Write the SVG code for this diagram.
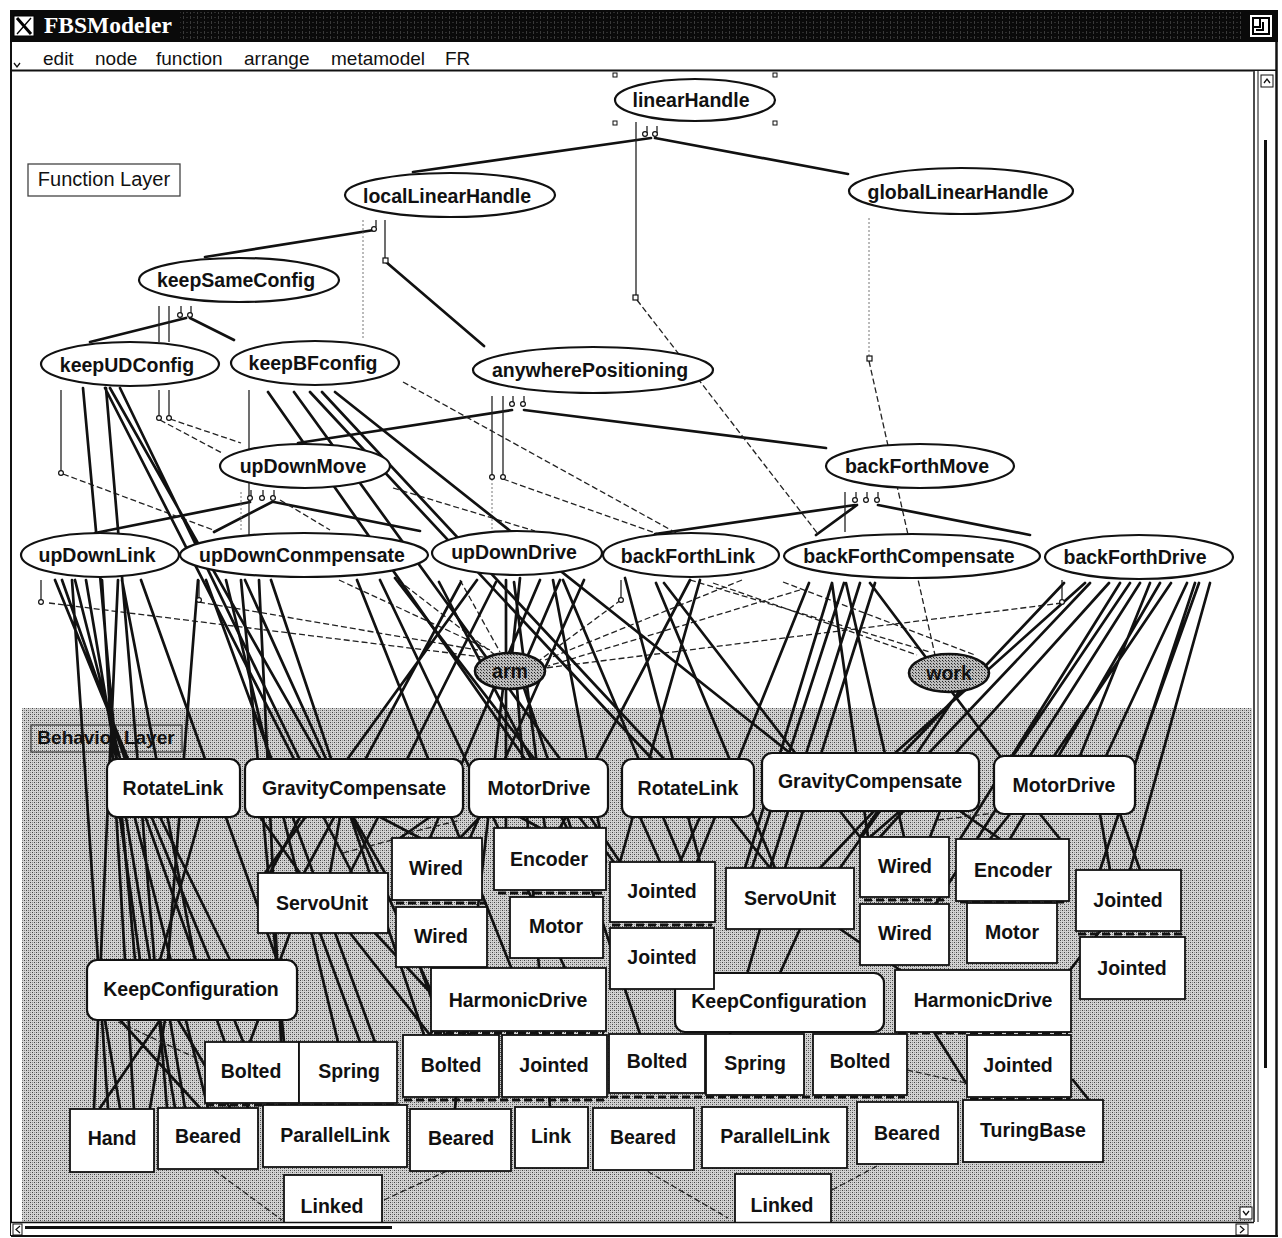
<svg xmlns="http://www.w3.org/2000/svg" width="1282" height="1238" viewBox="0 0 1282 1238">
<defs>
  <pattern id="stip" width="4" height="4" patternUnits="userSpaceOnUse">
    <rect width="4" height="4" fill="#d2d2d2"/>
    <rect x="0" y="0" width="1" height="1" fill="#444"/>
    <rect x="2" y="2" width="1" height="1" fill="#444"/>
    <rect x="0" y="2" width="1" height="1" fill="#888"/>
    <rect x="2" y="0" width="1" height="1" fill="#999"/>
  </pattern>
  <pattern id="stipDark" width="3" height="3" patternUnits="userSpaceOnUse">
    <rect width="3" height="3" fill="#bdbdbd"/>
    <rect x="0" y="0" width="1" height="1" fill="#222"/>
    <rect x="1" y="1" width="1" height="1" fill="#555"/>
  </pattern>
  <pattern id="titleTex" width="7" height="5" patternUnits="userSpaceOnUse">
    <rect width="7" height="5" fill="#0a0a0a"/>
    <rect x="1" y="1" width="1" height="3" fill="#3a3a3a"/>
    <rect x="4" y="2" width="2" height="1" fill="#2c2c2c"/>
  </pattern>
  <style>
    .lbl { font-family: "Liberation Sans", Arial, sans-serif; font-weight: bold; font-size: 19.5px; fill: #111; text-anchor: middle; }
    .menu { font-family: "Liberation Sans", Arial, sans-serif; font-size: 19px; fill: #111; }
    .fn { fill: #fff; stroke: #111; stroke-width: 2.2; }
    .obj { fill: url(#stipDark); stroke: #111; stroke-width: 2.6; }
    .bh { fill: #fff; stroke: #111; stroke-width: 2.2; }
    .ent { fill: #fff; stroke: #111; stroke-width: 1.8; }
    .th { fill: none; stroke: #111; stroke-width: 2.7; stroke-linecap: round; }
    .tn { fill: none; stroke: #222; stroke-width: 1.3; }
    .ds { fill: none; stroke: #222; stroke-width: 1.3; stroke-dasharray: 6 3; }
    .dt { fill: none; stroke: #777; stroke-width: 1; stroke-dasharray: 2 2; }
    .gap { fill: none; stroke: #111; stroke-width: 3; stroke-dasharray: 8 4; }
    .hook { fill: #fff; stroke: #111; stroke-width: 1.2; }
  </style>
</defs>

<rect width="1282" height="1238" fill="#fff"/>

<!-- window title bar -->
<g id="titlebar">
  <rect x="10" y="10" width="1268" height="32" fill="#0a0a0a"/>
  <rect x="180" y="12" width="1062" height="28" fill="url(#titleTex)"/>
  <rect x="14" y="16" width="20" height="20" fill="#fff" stroke="#000" stroke-width="1"/>
  <line x1="17" y1="18" x2="31" y2="34" stroke="#000" stroke-width="3"/>
  <line x1="31" y1="18" x2="17" y2="34" stroke="#000" stroke-width="1.3"/>
  <text x="44" y="33" style="font-family:'Liberation Serif','Times New Roman',serif;font-weight:bold;font-size:23.5px;fill:#fff">FBSModeler</text>
  <rect x="1250" y="15" width="22" height="22" fill="#fff"/>
  <path d="M1253 18 H1269 V34 H1253 Z M1260 18 V27 H1253 M1263 22 V30 H1256" fill="none" stroke="#000" stroke-width="2"/>
</g>

<!-- menu bar -->
<g id="menubar">
  <rect x="10" y="42" width="1268" height="28" fill="#fff"/>
  <path d="M14 63 L17 67 L20 63" fill="none" stroke="#111" stroke-width="1.3"/>
  <text class="menu" x="43" y="65">edit</text>
  <text class="menu" x="95" y="65">node</text>
  <text class="menu" x="156" y="65">function</text>
  <text class="menu" x="244" y="65">arrange</text>
  <text class="menu" x="331" y="65">metamodel</text>
  <text class="menu" x="445" y="65">FR</text>
  <line x1="10" y1="70.5" x2="1276" y2="70.5" stroke="#111" stroke-width="2"/>
</g>

<!-- behaviour layer background -->
<rect id="behavior-area" x="22" y="708" width="1230" height="516" fill="url(#stip)"/>

<g id="layer-labels">
  <rect x="28" y="164" width="152" height="32" fill="#fff" stroke="#444" stroke-width="1.3"/>
  <text class="lbl" x="104" y="186" style="font-weight:normal;font-size:20px">Function Layer</text>
  <rect x="31" y="725" width="151" height="27" fill="none" stroke="#444" stroke-width="1.3"/>
  <text class="lbl" x="106" y="744" style="font-size:19px">Behavior Layer</text>
</g>

<g id="connectors">
  <!-- function hierarchy -->
  <path class="th" d="M651 138 L413 172 M655 138 L848 174 M374 230 L205 257 M386 262 L484 346 M186 318 L90 342 M190 318 L234 340 M512 410 L298 443 M524 410 L826 448 M250 502 L95 533 M272 502 L214 532 M274 502 L420 531 M855 505 L655 534 M857 505 L816 535 M878 505 L1030 535"/>
  <path class="tn" d="M636 122 V296 M385 220 V258 M159 306 V342 M169 306 V342 M159 390 V416 M169 390 V416 M61 390 V471 M249 390 V535 M492 396 V475 M503 396 V475 M845 492 V532 M41 580 V600 M199 580 V598 M621 580 V598 M1062 580 V600 M647 126 V133 M657 126 V133 M376 220 V227 M181 306 V313 M191 306 V313 M513 396 V402 M524 396 V402 M251 490 V496 M263 490 V496 M274 490 V496 M856 492 V498 M867 492 V498 M878 492 V498"/>
  <path class="dt" d="M363 220 V340 M869 218 V356 M492 479 V532 M241 492 V532"/>
  <path class="ds" d="M637 300 L818 534 M869 361 L935 655 M160 420 L222 453 M170 419 L241 443 M63 474 L216 531 M403 382 L680 535 M503 479 L658 534 M280 500 L330 530 M393 488 L535 531"/>
  <!-- links down to objects -->
  <path class="ds" d="M49 603 L490 658 M199 602 L478 650 M621 600 L540 660 M1062 603 L545 668 M742 580 L545 660 M339 580 L490 650 M398 580 L495 655 M713 583 L917 655 M783 582 L975 655 M690 580 L930 652 M800 590 L548 666 M460 580 L500 652"/>
  <!-- function to behaviour realisations -->
  <path class="th" d="M83 388 L135 960 M106 388 L167 1108 M105 388 L352 873 M110 388 L385 873 M120 388 L300 760 M55 580 L269 1105 M62 580 L248 1108 M75 580 L208 1108 M86 580 L175 1108 M102 580 L134 1109 M118 580 L94 1109 M122 580 L195 960 M141 580 L277 960 M72 580 L108 1108"/>
  <path class="th" d="M198 580 L168 960 M206 580 L375 1042 M226 580 L338 1042 M241 580 L284 1042 M245 580 L451 1035 M259 580 L281 1042 M271 580 L424 1035 M357 580 L538 1035 M380 580 L565 968 M395 578 L620 870"/>
  <path class="th" d="M268 392 L525 759 M294 392 L560 759 M310 392 L652 759 M322 392 L664 759 M335 392 L790 753"/>
  <path class="th" d="M477 580 L265 873 M461 582 L304 873 M496 582 L350 873 M506 580 L506 828 M514 582 L545 828 M553 580 L606 862 M563 580 L682 862 M584 580 L470 838 M439 582 L567 828 M540 580 L430 838 M520 578 L512 655 M560 580 L528 655 M503 688 L455 1108 M517 688 L550 1107 M524 688 L640 1034"/>
  <path class="th" d="M656 583 L775 868 M664 583 L860 837 M625 578 L700 862 M809 583 L697 862 M690 580 L560 828 M700 580 L620 862 M832 583 L745 868 M844 583 L752 868 M860 583 L770 868 M875 583 L785 868 M846 583 L904 837 M832 583 L868 837 M870 583 L1000 756"/>
  <path class="th" d="M1064 583 L903 753 M1085 583 L895 753 M1109 583 L880 837 M1130 583 L1013 756 M1150 583 L1080 756 M1171 583 L1054 756 M1187 583 L1106 756 M1199 583 L1137 756 M1120 583 L960 839 M1160 583 L1010 839 M1195 583 L1100 870 M1210 583 L1130 870 M1090 583 L820 868 M960 690 L860 837 M1140 583 L935 905"/>
  <!-- behaviour to entity links -->
  <path class="th" d="M120 817 L140 960 M160 817 L230 960 M200 817 L160 960 M260 817 L300 873 M300 817 L270 873 M340 817 L330 873 M380 817 L420 838 M430 817 L400 838 M480 817 L460 838 M520 817 L540 828 M590 817 L620 862 M640 817 L660 862 M700 817 L680 862 M730 817 L770 868 M880 811 L840 868 M900 811 L870 837 M940 811 L930 837 M960 811 L1000 839 M1010 814 L990 839 M1040 814 L1060 839 M1100 814 L1110 870 M1120 814 L1140 870"/>
  <path class="th" d="M290 933 L250 1042 M320 933 L360 1042 M350 933 L430 1035 M375 933 L470 1035 M420 967 L445 1035 M470 967 L430 1035 M760 929 L730 1034 M800 929 L780 973 M840 929 L900 970 M1100 931 L1070 970 M105 1020 L120 1108 M160 1020 L100 1108 M165 1020 L150 1108 M170 1020 L185 1108 M178 1020 L230 1108 M120 1020 L200 1108 M934 1032 L966 1083 M1073 1080 L1089 1100"/>
  <path class="ds" d="M343 853 L392 840 M408 833 L461 820 M938 820 L995 813 M214 1170 L282 1220 M384 1200 L449 1170 M640 1167 L728 1218 M832 1190 L879 1165 M907 1070 L966 1083 M118 1022 L205 1062"/>
  <path class="gap" d="M396 903 H485 M498 893 H603 M612 925 H712 M864 900 H946 M960 902 H1066 M1078 934 H1182 M434 1033 H604 M898 1033 H1068 M206 1105 H400 M404 1100 H606 M610 1097 H905 M970 1099 H1070"/>
  <!-- connector end markers -->
  <g class="hook">
    <circle cx="645" cy="134" r="2.4"/><circle cx="655" cy="134" r="2.4"/>
    <rect x="633" y="295" width="5" height="5"/>
    <circle cx="374" cy="229" r="2.4"/><rect x="383" y="258" width="5" height="5"/>
    <circle cx="180" cy="315" r="2.4"/><circle cx="190" cy="315" r="2.4"/>
    <circle cx="159" cy="418" r="2.4"/><circle cx="169" cy="418" r="2.4"/>
    <circle cx="61" cy="473" r="2.4"/>
    <circle cx="512" cy="404" r="2.4"/><circle cx="523" cy="404" r="2.4"/>
    <circle cx="492" cy="477" r="2.4"/><circle cx="503" cy="477" r="2.4"/>
    <rect x="867" y="356" width="5" height="5"/>
    <circle cx="250" cy="498" r="2.4"/><circle cx="262" cy="498" r="2.4"/><circle cx="273" cy="498" r="2.4"/>
    <circle cx="855" cy="500" r="2.4"/><circle cx="866" cy="500" r="2.4"/><circle cx="877" cy="500" r="2.4"/>
    <circle cx="41" cy="602" r="2.4"/><circle cx="199" cy="600" r="2.4"/>
    <circle cx="621" cy="600" r="2.4"/><circle cx="1062" cy="602" r="2.4"/>
  </g>
</g>

<!-- selection handles -->
<g id="selection" fill="#fff" stroke="#111" stroke-width="1">
  <rect x="613" y="73" width="4" height="4"/><rect x="773" y="73" width="4" height="4"/>
  <rect x="613" y="121" width="4" height="4"/><rect x="773" y="121" width="4" height="4"/>
</g>

<!-- function layer -->
<g id="linearHandle"><ellipse class="fn" cx="695" cy="100" rx="80" ry="21"/><text class="lbl" x="691" y="107">linearHandle</text></g>
<g id="localLinearHandle"><ellipse class="fn" cx="450" cy="195" rx="105" ry="22"/><text class="lbl" x="447" y="203">localLinearHandle</text></g>
<g id="globalLinearHandle"><ellipse class="fn" cx="961" cy="191" rx="112" ry="23"/><text class="lbl" x="958" y="199">globalLinearHandle</text></g>
<g id="keepSameConfig"><ellipse class="fn" cx="239" cy="280" rx="100" ry="22"/><text class="lbl" x="236" y="287">keepSameConfig</text></g>
<g id="keepUDConfig"><ellipse class="fn" cx="130" cy="364" rx="89" ry="22"/><text class="lbl" x="127" y="372">keepUDConfig</text></g>
<g id="keepBFconfig"><ellipse class="fn" cx="315" cy="363" rx="84" ry="22"/><text class="lbl" x="313" y="370">keepBFconfig</text></g>
<g id="anywherePositioning"><ellipse class="fn" cx="593" cy="370" rx="120" ry="23"/><text class="lbl" x="590" y="377">anywherePositioning</text></g>
<g id="upDownMove"><ellipse class="fn" cx="305" cy="466" rx="85" ry="22"/><text class="lbl" x="303" y="473">upDownMove</text></g>
<g id="backForthMove"><ellipse class="fn" cx="920" cy="466" rx="94" ry="22"/><text class="lbl" x="917" y="473">backForthMove</text></g>
<g id="upDownLink"><ellipse class="fn" cx="100" cy="555" rx="79" ry="22"/><text class="lbl" x="97" y="562">upDownLink</text></g>
<g id="upDownConmpensate"><ellipse class="fn" cx="304" cy="555" rx="124" ry="22"/><text class="lbl" x="302" y="562">upDownConmpensate</text></g>
<g id="upDownDrive"><ellipse class="fn" cx="517" cy="553" rx="85" ry="22"/><text class="lbl" x="514" y="559">upDownDrive</text></g>
<g id="backForthLink"><ellipse class="fn" cx="691" cy="555" rx="88" ry="22"/><text class="lbl" x="688" y="563">backForthLink</text></g>
<g id="backForthCompensate"><ellipse class="fn" cx="912" cy="556" rx="128" ry="22"/><text class="lbl" x="909" y="563">backForthCompensate</text></g>
<g id="backForthDrive"><ellipse class="fn" cx="1139" cy="557" rx="94" ry="22"/><text class="lbl" x="1135" y="564">backForthDrive</text></g>
<g id="arm"><ellipse class="obj" cx="510" cy="671" rx="35" ry="18"/><text class="lbl" x="510" y="678">arm</text></g>
<g id="work"><ellipse class="obj" cx="949" cy="673" rx="40" ry="19"/><text class="lbl" x="949" y="680">work</text></g>

<!-- behaviour layer: behaviours -->
<g id="RotateLink-1"><rect class="bh" x="107" y="759" width="133" height="58" rx="10"/><text class="lbl" x="173" y="795">RotateLink</text></g>
<g id="GravityCompensate-1"><rect class="bh" x="245" y="759" width="218" height="58" rx="10"/><text class="lbl" x="354" y="795">GravityCompensate</text></g>
<g id="MotorDrive-1"><rect class="bh" x="469" y="759" width="139" height="58" rx="10"/><text class="lbl" x="539" y="795">MotorDrive</text></g>
<g id="RotateLink-2"><rect class="bh" x="622" y="759" width="132" height="58" rx="10"/><text class="lbl" x="688" y="795">RotateLink</text></g>
<g id="GravityCompensate-2"><rect class="bh" x="762" y="753" width="217" height="58" rx="10"/><text class="lbl" x="870" y="788">GravityCompensate</text></g>
<g id="MotorDrive-2"><rect class="bh" x="994" y="756" width="141" height="58" rx="10"/><text class="lbl" x="1064" y="792">MotorDrive</text></g>
<g id="KeepConfiguration-1"><rect class="bh" x="87" y="960" width="210" height="60" rx="10"/><text class="lbl" x="191" y="996">KeepConfiguration</text></g>
<g id="KeepConfiguration-2"><rect class="bh" x="675" y="973" width="209" height="59" rx="10"/><text class="lbl" x="779" y="1008">KeepConfiguration</text></g>

<!-- behaviour layer: entities -->
<g id="ServoUnit-1"><rect class="ent" x="258" y="873" width="130" height="60"/><text class="lbl" x="322" y="910">ServoUnit</text></g>
<g id="Wired-1a"><rect class="ent" x="392" y="838" width="90" height="62"/><text class="lbl" x="436" y="875">Wired</text></g>
<g id="Wired-1b"><rect class="ent" x="396" y="907" width="91" height="60"/><text class="lbl" x="441" y="943">Wired</text></g>
<g id="Encoder-1"><rect class="ent" x="494" y="828" width="112" height="62"/><text class="lbl" x="549" y="866">Encoder</text></g>
<g id="Motor-1"><rect class="ent" x="510" y="897" width="93" height="61"/><text class="lbl" x="556" y="933">Motor</text></g>
<g id="Jointed-1a"><rect class="ent" x="610" y="862" width="105" height="60"/><text class="lbl" x="662" y="898">Jointed</text></g>
<g id="Jointed-1b"><rect class="ent" x="610" y="928" width="104" height="61"/><text class="lbl" x="662" y="964">Jointed</text></g>
<g id="ServoUnit-2"><rect class="ent" x="726" y="868" width="128" height="61"/><text class="lbl" x="790" y="905">ServoUnit</text></g>
<g id="Wired-2a"><rect class="ent" x="860" y="837" width="89" height="60"/><text class="lbl" x="905" y="873">Wired</text></g>
<g id="Wired-2b"><rect class="ent" x="860" y="904" width="89" height="61"/><text class="lbl" x="905" y="940">Wired</text></g>
<g id="Encoder-2"><rect class="ent" x="956" y="839" width="113" height="62"/><text class="lbl" x="1013" y="877">Encoder</text></g>
<g id="Motor-2"><rect class="ent" x="967" y="903" width="90" height="60"/><text class="lbl" x="1012" y="939">Motor</text></g>
<g id="Jointed-2a"><rect class="ent" x="1076" y="870" width="105" height="61"/><text class="lbl" x="1128" y="907">Jointed</text></g>
<g id="Jointed-2b"><rect class="ent" x="1080" y="937" width="105" height="62"/><text class="lbl" x="1132" y="975">Jointed</text></g>
<g id="HarmonicDrive-1"><rect class="ent" x="431" y="968" width="175" height="63"/><text class="lbl" x="518" y="1007">HarmonicDrive</text></g>
<g id="HarmonicDrive-2"><rect class="ent" x="895" y="970" width="176" height="62"/><text class="lbl" x="983" y="1007">HarmonicDrive</text></g>
<g id="Bolted-1"><rect class="ent" x="205" y="1042" width="94" height="61"/><text class="lbl" x="251" y="1078">Bolted</text></g>
<g id="Spring-1"><rect class="ent" x="299" y="1042" width="98" height="61"/><text class="lbl" x="349" y="1078">Spring</text></g>
<g id="Bolted-2"><rect class="ent" x="403" y="1035" width="96" height="62"/><text class="lbl" x="451" y="1072">Bolted</text></g>
<g id="Jointed-3"><rect class="ent" x="502" y="1035" width="105" height="62"/><text class="lbl" x="554" y="1072">Jointed</text></g>
<g id="Bolted-3"><rect class="ent" x="609" y="1034" width="96" height="59"/><text class="lbl" x="657" y="1068">Bolted</text></g>
<g id="Spring-2"><rect class="ent" x="706" y="1034" width="98" height="61"/><text class="lbl" x="755" y="1070">Spring</text></g>
<g id="Bolted-4"><rect class="ent" x="813" y="1034" width="94" height="61"/><text class="lbl" x="860" y="1068">Bolted</text></g>
<g id="Jointed-4"><rect class="ent" x="967" y="1035" width="104" height="62"/><text class="lbl" x="1018" y="1072">Jointed</text></g>
<g id="Hand"><rect class="ent" x="70" y="1109" width="84" height="63"/><text class="lbl" x="112" y="1145">Hand</text></g>
<g id="Beared-1"><rect class="ent" x="158" y="1108" width="100" height="61"/><text class="lbl" x="208" y="1143">Beared</text></g>
<g id="ParallelLink-1"><rect class="ent" x="263" y="1105" width="144" height="62"/><text class="lbl" x="335" y="1142">ParallelLink</text></g>
<g id="Beared-2"><rect class="ent" x="410" y="1109" width="101" height="62"/><text class="lbl" x="461" y="1145">Beared</text></g>
<g id="Link"><rect class="ent" x="515" y="1107" width="73" height="61"/><text class="lbl" x="551" y="1143">Link</text></g>
<g id="Beared-3"><rect class="ent" x="593" y="1108" width="101" height="62"/><text class="lbl" x="643" y="1144">Beared</text></g>
<g id="ParallelLink-2"><rect class="ent" x="702" y="1107" width="145" height="61"/><text class="lbl" x="775" y="1143">ParallelLink</text></g>
<g id="Beared-4"><rect class="ent" x="857" y="1102" width="101" height="62"/><text class="lbl" x="907" y="1140">Beared</text></g>
<g id="TuringBase"><rect class="ent" x="963" y="1100" width="140" height="62"/><text class="lbl" x="1033" y="1137">TuringBase</text></g>
<g id="Linked-1"><rect class="ent" x="284" y="1175" width="98" height="55"/><text class="lbl" x="332" y="1213">Linked</text></g>
<g id="Linked-2"><rect class="ent" x="735" y="1174" width="96" height="56"/><text class="lbl" x="782" y="1212">Linked</text></g>

<!-- window frame and scrollbars -->
<g id="frame">
  <line x1="11" y1="42" x2="11" y2="1236" stroke="#111" stroke-width="2"/>
  <rect x="1253" y="71" width="25" height="1166" fill="#fff"/>
  <line x1="1254" y1="71" x2="1254" y2="1222" stroke="#111" stroke-width="1.5"/>
  <line x1="1258" y1="71" x2="1258" y2="1222" stroke="#111" stroke-width="1"/>
  <line x1="1276.5" y1="42" x2="1276.5" y2="1236" stroke="#111" stroke-width="2.5"/>
  <rect x="1261" y="75" width="12" height="12" fill="#fff" stroke="#111" stroke-width="1"/>
  <path d="M1264 83 L1267 79 L1270 83" fill="none" stroke="#111" stroke-width="1.3"/>
  <line x1="1265.5" y1="140" x2="1265.5" y2="1068" stroke="#111" stroke-width="3"/>
  <rect x="1240" y="1207" width="12" height="12" fill="#fff" stroke="#111" stroke-width="1"/>
  <path d="M1243 1211 L1246 1215 L1249 1211" fill="none" stroke="#111" stroke-width="1.3"/>
  <rect x="11" y="1222" width="1243" height="15" fill="#fff"/>
  <line x1="11" y1="1222.5" x2="1254" y2="1222.5" stroke="#111" stroke-width="1.5"/>
  <line x1="11" y1="1236" x2="1278" y2="1236" stroke="#111" stroke-width="2"/>
  <rect x="13" y="1224" width="9" height="11" fill="#fff" stroke="#111" stroke-width="1"/>
  <path d="M20 1226 L16 1229.5 L20 1233" fill="none" stroke="#111" stroke-width="1.2"/>
  <line x1="25" y1="1227.5" x2="392" y2="1227.5" stroke="#111" stroke-width="3"/>
  <rect x="1236" y="1224" width="12" height="11" fill="#fff" stroke="#111" stroke-width="1"/>
  <path d="M1240 1226 L1244 1229.5 L1240 1233" fill="none" stroke="#111" stroke-width="1.2"/>
</g>
</svg>
